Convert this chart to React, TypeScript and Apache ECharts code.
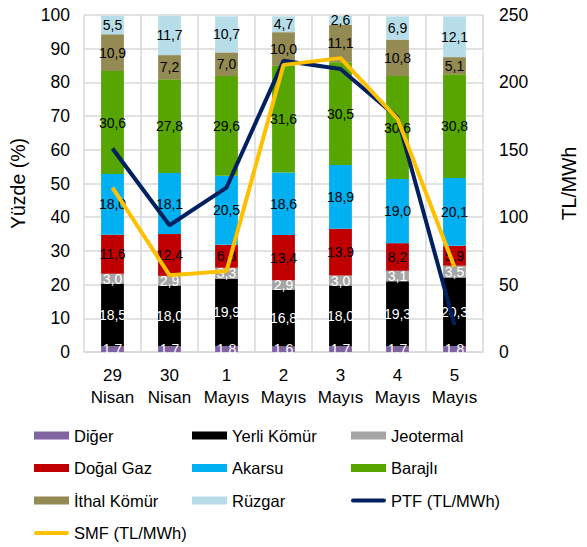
import React, { useEffect, useRef } from "react";
import * as echarts from "echarts";

const categories = ["29\nNisan", "30\nNisan", "1\nMayıs", "2\nMayıs", "3\nMayıs", "4\nMayıs", "5\nMayıs"];

const diger = [1.7, 1.7, 1.8, 1.6, 1.7, 1.7, 1.8];
const yerliKomur = [18.5, 18.0, 19.9, 16.8, 18.0, 19.3, 20.3];
const jeotermal = [3.0, 2.9, 3.3, 2.9, 3.0, 3.1, 3.5];
const dogalGaz = [11.6, 12.4, 6.8, 13.4, 13.9, 8.2, 5.9];
const akarsu = [18.0, 18.1, 20.5, 18.6, 18.9, 19.0, 20.1];
const barajli = [30.6, 27.8, 29.6, 31.6, 30.5, 30.6, 30.8];
const ithalKomur = [10.9, 7.2, 7.0, 10.0, 11.1, 10.8, 5.1];
const ruzgar = [5.5, 11.7, 10.7, 4.7, 2.6, 6.9, 12.1];

const ptf = [151, 94, 122, 216, 210, 174, 20];
const smf = [122, 57, 60, 213, 218, 173, 63];

const FONT = "'Liberation Sans', Arial, sans-serif";

const barDefs = [
  { name: "Diğer", data: diger, color: "#8064A2", label: "#ffffff" },
  { name: "Yerli Kömür", data: yerliKomur, color: "#000000", label: "#ffffff" },
  { name: "Jeotermal", data: jeotermal, color: "#A5A5A5", label: "#ffffff" },
  { name: "Doğal Gaz", data: dogalGaz, color: "#C00000", label: "#000000" },
  { name: "Akarsu", data: akarsu, color: "#00B0F0", label: "#000000" },
  { name: "Barajlı", data: barajli, color: "#56A500", label: "#000000" },
  { name: "İthal Kömür", data: ithalKomur, color: "#948A54", label: "#000000" },
  { name: "Rüzgar", data: ruzgar, color: "#B7DEE8", label: "#000000" },
];

const lineIcon = "path://M2,0 L33,0 A2,2 0 0 1 33,4 L2,4 A2,2 0 0 1 2,0 Z";

export default function App() {
  const ref = useRef<HTMLDivElement>(null);
  useEffect(() => {
    if (!ref.current) return;
    const chart = echarts.init(ref.current, null, { renderer: "svg" });
    const legendCommon = {
      orient: "vertical",
      itemWidth: 35,
      itemHeight: 8,
      itemGap: 15.5,
      top: 422,
      height: 160,
      textStyle: { fontSize: 16.5, color: "#000", fontFamily: FONT },
      selectedMode: false,
    };
    const option: any = {
      animation: false,
      backgroundColor: "#fff",
      textStyle: { fontFamily: FONT },
      grid: { left: 82, right: 71, top: 15, bottom: 195 },
      legend: [
        {
          ...legendCommon,
          left: 29,
          data: [
            { name: "Diğer", icon: "rect" },
            { name: "Doğal Gaz", icon: "rect" },
            { name: "İthal Kömür", icon: "rect" },
            { name: "SMF (TL/MWh)", icon: lineIcon },
          ],
        },
        {
          ...legendCommon,
          left: 187,
          data: [
            { name: "Yerli Kömür", icon: "rect" },
            { name: "Akarsu", icon: "rect" },
            { name: "Rüzgar", icon: "rect" },
          ],
        },
        {
          ...legendCommon,
          left: 346,
          data: [
            { name: "Jeotermal", icon: "rect" },
            { name: "Barajlı", icon: "rect" },
            { name: "PTF (TL/MWh)", icon: lineIcon },
          ],
        },
      ],
      xAxis: {
        type: "category",
        data: categories,
        axisLine: { lineStyle: { color: "#d9d9d9", width: 1.5 } },
        axisTick: { show: false },
        splitLine: { show: true, lineStyle: { color: "#d9d9d9", width: 1.5 } },
        axisLabel: { fontSize: 17, color: "#000", lineHeight: 22, margin: 12, fontFamily: FONT, interval: 0 },
      },
      yAxis: [
        {
          type: "value",
          min: 0,
          max: 100,
          interval: 10,
          name: "Yüzde (%)",
          nameLocation: "middle",
          nameGap: 56,
          nameTextStyle: { fontSize: 19.5, color: "#000", fontFamily: FONT },
          axisLine: { show: false },
          axisTick: { show: false },
          splitLine: { lineStyle: { color: "#d9d9d9", width: 1.5 } },
          axisLabel: { fontSize: 17.5, color: "#000", margin: 14, fontFamily: FONT },
        },
        {
          type: "value",
          min: 0,
          max: 250,
          interval: 50,
          name: "TL/MWh",
          nameLocation: "middle",
          nameGap: 76,
          nameTextStyle: { fontSize: 19.5, color: "#000", fontFamily: FONT },
          axisLine: { show: false },
          axisTick: { show: false },
          splitLine: { show: false },
          axisLabel: { fontSize: 17.5, color: "#000", margin: 16, fontFamily: FONT },
        },
      ],
      series: [
        ...barDefs.map((b) => ({
          name: b.name,
          type: "bar",
          stack: "total",
          barWidth: "40%",
          data: b.data,
          itemStyle: { color: b.color },
          label: {
            show: true,
            position: "inside",
            color: b.label,
            fontSize: 14,
            fontFamily: FONT,
            formatter: (p: any) => Number(p.value).toFixed(1).replace(".", ","),
          },
        })),
        {
          name: "PTF (TL/MWh)",
          type: "line",
          yAxisIndex: 1,
          data: ptf,
          symbol: "none",
          lineStyle: { color: "#002060", width: 4 },
          itemStyle: { color: "#002060" },
          z: 5,
        },
        {
          name: "SMF (TL/MWh)",
          type: "line",
          yAxisIndex: 1,
          data: smf,
          symbol: "none",
          lineStyle: { color: "#FFC000", width: 4 },
          itemStyle: { color: "#FFC000" },
          z: 6,
        },
      ],
    };
    chart.setOption(option);
    return () => chart.dispose();
  }, []);
  return <div ref={ref} style={{ position: "fixed", left: 0, top: 0, width: 587, height: 547 }} />;
}
